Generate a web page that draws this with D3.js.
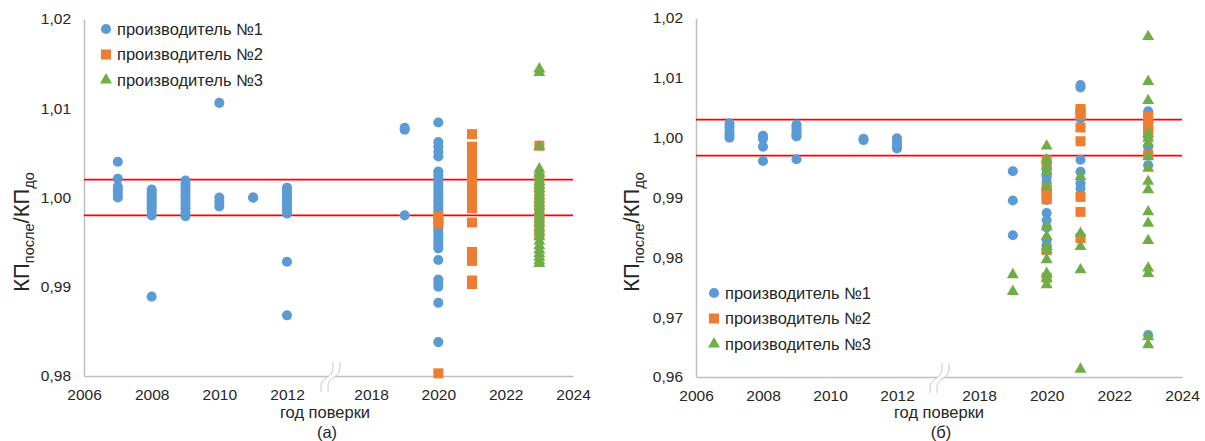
<!DOCTYPE html>
<html>
<head>
<meta charset="utf-8">
<script src="https://cdn.jsdelivr.net/npm/d3@7"></script>
<style>
  body { margin: 0; background: #fff; }
  svg { font-family: "Liberation Sans", Arial, sans-serif; }
</style>
</head>
<body>
<svg id="chart" width="1205" height="441"></svg>
<script>
// tick labels
const xTicks = [2006, 2008, 2010, 2012, 2018, 2020, 2022, 2024];
const yTicksA = [0.98, 0.99, 1.00, 1.01, 1.02];
const yTicksB = [0.96, 0.97, 0.98, 0.99, 1.00, 1.01, 1.02];
const seriesNames = ["производитель №1", "производитель №2", "производитель №3"];

// (а) tolerance lines and values by year
const limitsA = [1.002, 0.998];
const a1 = [
  [2007, [1.0040, 1.0021, 1.0012, 1.0008, 1.0004, 1.0000]],
  [2008, [1.0009, 1.0006, 1.0003, 1.0000, 0.9997, 0.9994, 0.9991, 0.9988, 0.9984, 0.9980, 0.9889]],
  [2009, [1.0019, 1.0015, 1.0011, 1.0007, 1.0003, 1.0000, 0.9996, 0.9992, 0.9988, 0.9983, 0.9979]],
  [2010, [1.0000, 0.9995, 0.9990, 1.0106]],
  [2011, [1.0000, 1.0000]],
  [2012, [1.0011, 1.0008, 1.0005, 1.0002, 0.9999, 0.9996, 0.9993, 0.9990, 0.9986, 0.9982, 0.9928, 0.9868]],
  [2019, [1.0078, 1.0076, 0.9980]],
  [2020, [1.0084, 1.0062, 1.0057, 1.0051, 1.0046, 1.0029, 1.0025, 1.0021, 1.0017, 1.0013, 1.0009, 1.0005,
          1.0001, 0.9997, 0.9993, 0.9989, 0.9985, 0.9966, 0.9962, 0.9958, 0.9954, 0.9950, 0.9946, 0.9943,
          0.9930, 0.9908, 0.9904, 0.9900, 0.9882, 0.9838]]
];
const a2 = [
  [2020, [0.9979, 0.9975, 0.9971, 0.9803]],
  [2021, [1.0071, 1.0057, 1.0052, 1.0047, 1.0042, 1.0037, 1.0032, 1.0027, 1.0022, 1.0017, 1.0012, 1.0007,
          1.0002, 0.9997, 0.9992, 0.9988, 0.9972, 0.9939, 0.9929, 0.9907, 0.9903]],
  [2023, [1.0058, 1.0022, 1.0010, 0.9997, 0.9985, 0.9975, 0.9966, 0.9958]]
];
const a3 = [
  [2023, [1.0144, 1.0140, 1.0057, 1.0032, 1.0027, 1.0022, 1.0018, 1.0014, 1.0010, 1.0006, 1.0002, 0.9998,
          0.9994, 0.9990, 0.9985, 0.9980, 0.9976, 0.9971, 0.9966, 0.9961, 0.9956, 0.9951, 0.9946, 0.9941,
          0.9937, 0.9933, 0.9929, 0.9926]]
];

// (б)
const limitsB = [1.003, 0.997];
const b1 = [
  [2007, [1.0024, 1.0018, 1.0010, 1.0005, 1.0000]],
  [2008, [1.0003, 0.9998, 0.9985, 0.9961]],
  [2009, [1.0022, 1.0018, 1.0013, 1.0008, 1.0004, 1.0002, 0.9964]],
  [2011, [0.9998, 0.9996]],
  [2012, [0.9999, 0.9993, 0.9987, 0.9982]],
  [2019, [0.9944, 0.9895, 0.9837]],
  [2020, [0.9943, 0.9934, 0.9926, 0.9896, 0.9874, 0.9862, 0.9850, 0.9829, 0.9820]],
  [2021, [1.0088, 1.0084, 1.0032, 0.9963, 0.9943, 0.9924, 0.9915]],
  [2023, [1.0044, 1.0040, 0.9985, 0.9974, 0.9954, 0.9670]]
];
const b2 = [
  [2020, [0.9962, 0.9955, 0.9916, 0.9910, 0.9903, 0.9897, 0.9812, 0.9766]],
  [2021, [1.0048, 1.0043, 1.0038, 1.0017, 0.9994, 0.9901, 0.9876, 0.9832]],
  [2023, [1.0035, 1.0030, 1.0024, 1.0018, 1.0012, 1.0006, 0.9971]]
];
const b3 = [
  [2019, [0.9771, 0.9743]],
  [2020, [0.9986, 0.9963, 0.9952, 0.9943, 0.9918, 0.9851, 0.9835, 0.9818, 0.9812, 0.9796, 0.9773, 0.9765, 0.9754]],
  [2021, [0.9935, 0.9840, 0.9818, 0.9779, 0.9613]],
  [2023, [1.0169, 1.0094, 1.0062, 1.0007, 0.9999, 0.9991, 0.9968, 0.9949, 0.9927, 0.9913, 0.9876, 0.9857,
          0.9828, 0.9782, 0.9773, 0.9667, 0.9654]]
];

const colors = ["#5b9bd5", "#ed7d31", "#70ad47"];
const shapes = [d3.symbolCircle, d3.symbolSquare, d3.symbolTriangle];
const sizes = [80, 100, 62];
const axisColor = "#bfbfbf";
const textColor = "#262626";

const fmt = d3.formatLocale({ decimal: ",", thousands: " ", grouping: [3], currency: ["", ""] }).format(".2f");

const svg = d3.select("#chart");

function flatten(series) {
  const out = [];
  series.forEach(([year, vals]) => vals.forEach(v => out.push({ year, v })));
  return out;
}

function drawChart(cfg) {
  // piecewise x scale: 2012..2018 is squeezed (axis break)
  const x = d3.scaleLinear()
    .domain([2006, 2012, 2018, 2024])
    .range(cfg.xRange);
  const y = d3.scaleLinear().domain(cfg.yDomain).range(cfg.yRange);

  const g = svg.append("g");

  // y axis
  const yAxis = g.append("g")
    .attr("transform", `translate(${cfg.xRange[0]},0)`)
    .call(d3.axisLeft(y).tickValues(cfg.yTicks).tickFormat(fmt).tickSize(0).tickPadding(13));
  yAxis.select(".domain").attr("stroke", axisColor).attr("stroke-width", 1.5);
  yAxis.selectAll("text").attr("font-size", 15.5).attr("fill", textColor).attr("font-family", null);

  // x axis
  const xAxis = g.append("g")
    .attr("transform", `translate(0,${cfg.yRange[0]})`)
    .call(d3.axisBottom(x).tickValues(xTicks).tickFormat(d3.format("d")).tickSize(0).tickPadding(13));
  xAxis.select(".domain").attr("stroke", axisColor).attr("stroke-width", 1.5);
  xAxis.selectAll("text").attr("font-size", 15.5).attr("fill", textColor).attr("font-family", null);

  // axis break mark
  const m = (x(2012) + x(2018)) / 2;
  const by = cfg.yRange[0];
  const curve = dx => `M${m + 4 + dx},${by - 14} L${m + 4 + dx},${by - 8} C${m + 4 + dx},${by + 2} ${m - 8 + dx},${by + 1} ${m - 8 + dx},${by + 10} L${m - 8 + dx},${by + 16}`;
  g.append("path")
    .attr("d", `M${m + 4},${by - 14} L${m + 11},${by - 14} L${m + 11},${by - 8} C${m + 11},${by + 2} ${m - 1},${by + 1} ${m - 1},${by + 10} L${m - 1},${by + 16} L${m - 8},${by + 16} L${m - 8},${by + 10} C${m - 8},${by + 1} ${m + 4},${by + 2} ${m + 4},${by - 8} Z`)
    .attr("fill", "#fff");
  [0, 7].forEach(dx => g.append("path").attr("d", curve(dx))
    .attr("fill", "none").attr("stroke", "#c8c8c8").attr("stroke-width", 1));

  // tolerance lines
  g.selectAll(".lim").data(cfg.limits).enter().append("line")
    .attr("x1", cfg.xRange[0]).attr("x2", cfg.xRange[3])
    .attr("y1", d => y(d)).attr("y2", d => y(d))
    .attr("stroke", "#ff0000").attr("stroke-width", 1.8);

  // points
  cfg.series.forEach((s, i) => {
    g.append("g").selectAll("path").data(flatten(s)).enter().append("path")
      .attr("d", d3.symbol().type(shapes[i]).size(sizes[i]))
      .attr("transform", d => `translate(${x(d.year)},${y(d.v)})`)
      .attr("fill", colors[i]);
  });

  // legend
  seriesNames.forEach((name, i) => {
    const ly = cfg.legend[1] + i * cfg.legendStep;
    g.append("path")
      .attr("d", d3.symbol().type(shapes[i]).size(sizes[i]))
      .attr("transform", `translate(${cfg.legend[0]},${ly})`)
      .attr("fill", colors[i]);
    g.append("text")
      .attr("x", cfg.legend[0] + 11).attr("y", ly + 5.5)
      .attr("font-size", 16.5).attr("fill", textColor)
      .text(name);
  });

  // y title with subscripts
  const t = g.append("text")
    .attr("transform", `translate(${cfg.yTitle[0]},${cfg.yTitle[1]}) rotate(-90)`)
    .attr("text-anchor", "middle").attr("font-size", 22).attr("fill", textColor);
  t.append("tspan").text("КП");
  t.append("tspan").attr("font-size", 14.5).attr("dy", 5).text("после");
  t.append("tspan").attr("dy", -5).text("/КП");
  t.append("tspan").attr("font-size", 14.5).attr("dy", 5).text("до");

  // x title and caption
  g.append("text")
    .attr("x", cfg.xTitle).attr("y", 418)
    .attr("text-anchor", "middle").attr("font-size", 16.5).attr("fill", textColor)
    .text("год поверки");
  g.append("text")
    .attr("x", cfg.xTitle + 2).attr("y", 438)
    .attr("text-anchor", "middle").attr("font-size", 16.5).attr("fill", textColor)
    .text(cfg.caption);
}

drawChart({
  xRange: [84, 287, 371, 573],
  yDomain: [0.98, 1.02], yRange: [376, 19], yTicks: yTicksA,
  limits: limitsA, series: [a1, a2, a3],
  legend: [106, 29], legendStep: 25.5,
  yTitle: [29, 232], xTitle: 325, caption: "(а)"
});

drawChart({
  xRange: [696, 897, 979, 1182],
  yDomain: [0.96, 1.02], yRange: [377, 18], yTicks: yTicksB,
  limits: limitsB, series: [b1, b2, b3],
  legend: [714, 293], legendStep: 25.5,
  yTitle: [639, 232], xTitle: 939, caption: "(б)"
});
</script>
</body>
</html>
